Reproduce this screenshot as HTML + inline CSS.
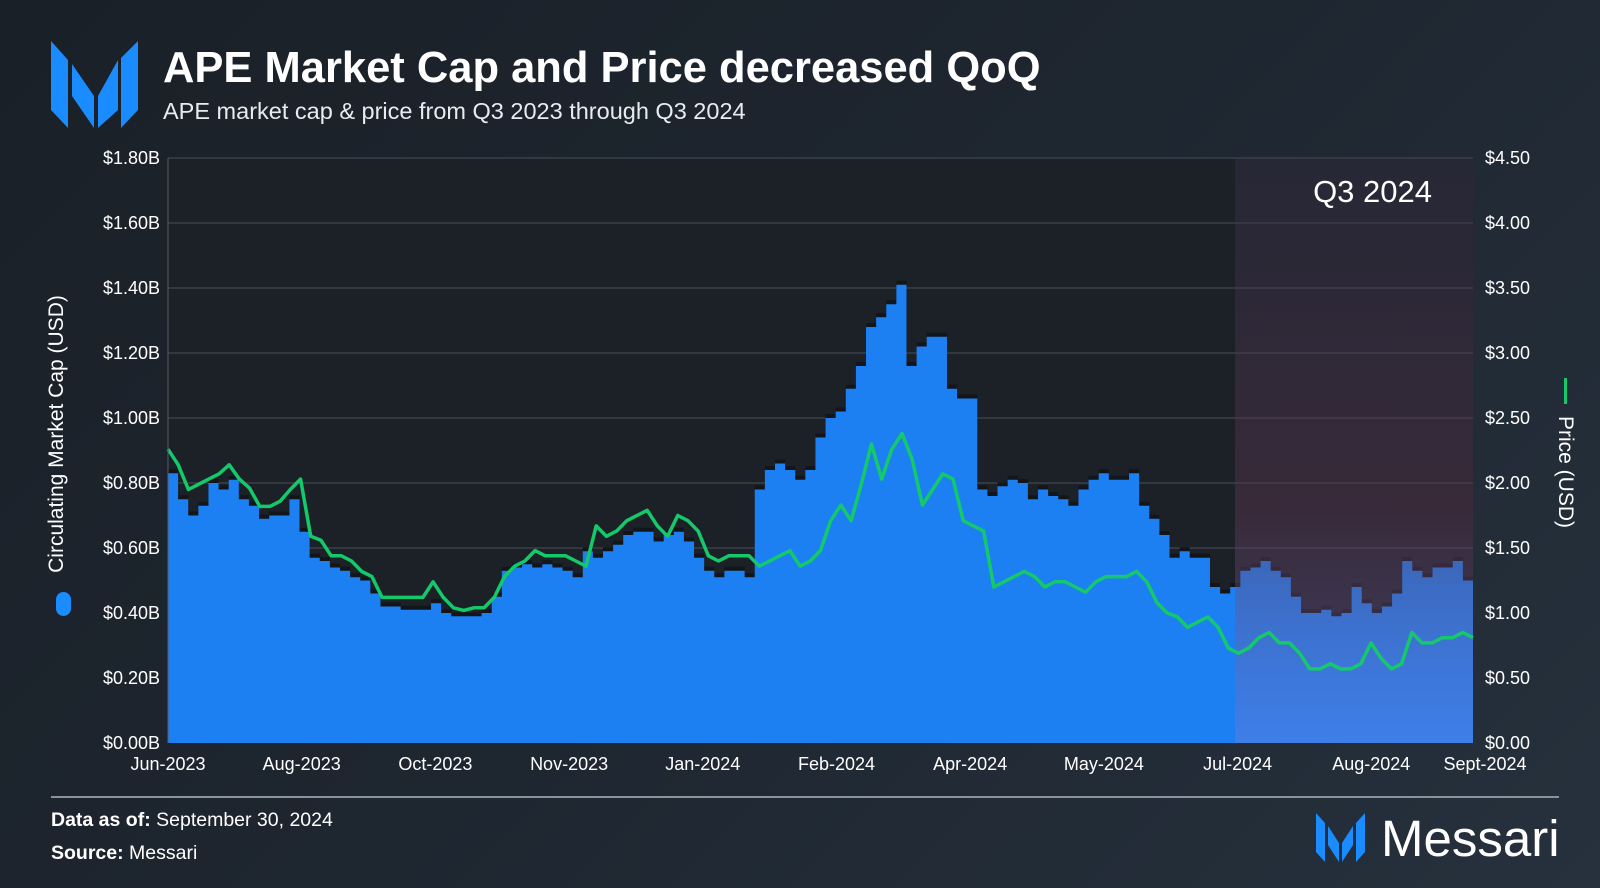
<!DOCTYPE html>
<html><head><meta charset="utf-8"><style>
body{margin:0;width:1600px;height:888px;overflow:hidden;background:linear-gradient(135deg,#1a2027 0%,#1e2630 50%,#26313d 100%);font-family:"Liberation Sans",sans-serif;color:#fff}
svg{position:absolute;left:0;top:0}
</style></head><body>
<svg id="c" width="1600" height="888">
<defs>
<linearGradient id="q3" x1="0" y1="0" x2="0" y2="1"><stop offset="0" stop-color="#3a3350" stop-opacity="0.35"/><stop offset="0.6" stop-color="#5a3550" stop-opacity="0.45"/><stop offset="1" stop-color="#8a7ad0" stop-opacity="0.3"/></linearGradient>
</defs>
<g><polygon points="51,41 68,60 68,128 51,110" fill="#1a8cff"/><polygon points="72,64 94,96 94,128 72,96" fill="#1a8cff"/><polygon points="98,96 118,60 118,110 98,128" fill="#1a8cff"/><polygon points="121,58 138,41 138,110 121,128" fill="#1a8cff"/></g>
<text x="163" y="82" font-size="43.5" font-weight="bold" fill="#fff">APE Market Cap and Price decreased QoQ</text>
<text x="163" y="119" font-size="23.5" fill="#e8ecf0">APE market cap &amp; price from Q3 2023 through Q3 2024</text>
<rect x="168" y="158" width="1305" height="585" fill="#1c2127"/>
<g id="grid"></g><g id="area"></g><g id="shade"></g><g id="line"></g><g id="axes"></g>
<text x="63" y="434" font-size="21" fill="#fff" text-anchor="middle" transform="rotate(-90 63 434)">Circulating Market Cap (USD)</text>
<rect x="56" y="592" width="15" height="24" rx="7.5" fill="#1a8cff"/>
<rect x="1564" y="378" width="3" height="26" fill="#14c96a"/>
<text x="1559" y="472" font-size="21" fill="#fff" text-anchor="middle" transform="rotate(90 1559 472)">Price (USD)</text>
<text x="1432" y="202" font-size="31" fill="#fff" text-anchor="end">Q3 2024</text>
<rect x="51" y="796" width="1508" height="2" fill="#8a939c"/>
<text x="51" y="826" font-size="19.5" fill="#fff"><tspan font-weight="bold">Data as of:</tspan> September 30, 2024</text>
<text x="51" y="859" font-size="19.5" fill="#fff"><tspan font-weight="bold">Source:</tspan> Messari</text>
<g><polygon points="1316,813 1325,823 1325,862 1316,852" fill="#1a8cff"/><polygon points="1328,826 1339,843 1339,862 1328,845" fill="#1a8cff"/><polygon points="1342,843 1353,826 1353,845 1342,862" fill="#1a8cff"/><polygon points="1356,823 1365,813 1365,852 1356,862" fill="#1a8cff"/><text x="1381" y="856" font-size="51" fill="#fff">Messari</text></g>
</svg>
<script>
const xLabels=["Jun-2023","Aug-2023","Oct-2023","Nov-2023","Jan-2024","Feb-2024","Apr-2024","May-2024","Jul-2024","Aug-2024","Sept-2024"];
const capTicks=[0,0.2,0.4,0.6,0.8,1.0,1.2,1.4,1.6,1.8];
const priceTicks=[0,0.5,1.0,1.5,2.0,2.5,3.0,3.5,4.0,4.5];
const marketCap=[0.83,0.75,0.70,0.73,0.80,0.78,0.81,0.75,0.73,0.69,0.70,0.70,0.75,0.65,0.57,0.56,0.54,0.53,0.51,0.50,0.46,0.42,0.42,0.41,0.41,0.41,0.43,0.40,0.39,0.39,0.39,0.40,0.45,0.53,0.54,0.55,0.54,0.55,0.54,0.53,0.51,0.59,0.57,0.59,0.61,0.64,0.65,0.65,0.62,0.64,0.65,0.62,0.57,0.53,0.51,0.53,0.53,0.51,0.78,0.84,0.86,0.84,0.81,0.84,0.94,1.00,1.02,1.09,1.16,1.28,1.31,1.35,1.41,1.16,1.22,1.25,1.25,1.09,1.06,1.06,0.78,0.76,0.79,0.81,0.80,0.75,0.78,0.76,0.75,0.73,0.78,0.81,0.83,0.81,0.81,0.83,0.73,0.69,0.64,0.57,0.59,0.57,0.57,0.48,0.46,0.48,0.53,0.54,0.56,0.53,0.51,0.45,0.40,0.40,0.41,0.39,0.40,0.48,0.43,0.40,0.42,0.46,0.56,0.53,0.51,0.54,0.54,0.56,0.50];
const price=[2.26,2.14,1.95,1.99,2.03,2.07,2.14,2.03,1.96,1.82,1.82,1.86,1.95,2.03,1.59,1.56,1.44,1.44,1.40,1.32,1.28,1.12,1.12,1.12,1.12,1.12,1.24,1.12,1.04,1.02,1.04,1.04,1.12,1.28,1.36,1.40,1.48,1.44,1.44,1.44,1.40,1.36,1.67,1.59,1.63,1.71,1.75,1.79,1.67,1.59,1.75,1.71,1.63,1.44,1.40,1.44,1.44,1.44,1.36,1.40,1.44,1.48,1.36,1.40,1.48,1.71,1.83,1.71,1.99,2.30,2.03,2.26,2.38,2.18,1.83,1.95,2.07,2.03,1.71,1.67,1.63,1.20,1.24,1.28,1.32,1.28,1.20,1.24,1.24,1.20,1.16,1.24,1.28,1.28,1.28,1.32,1.24,1.08,1.00,0.97,0.89,0.93,0.97,0.89,0.73,0.69,0.73,0.81,0.85,0.77,0.77,0.69,0.57,0.57,0.61,0.57,0.57,0.61,0.77,0.65,0.57,0.61,0.85,0.77,0.77,0.81,0.81,0.85,0.81];
const X0=168,X1=1473,Y0=158,YB=743,SX=1235;
const NS="http://www.w3.org/2000/svg";
function yCap(v){return YB-(v/1.8)*(YB-Y0);}
function yPrice(v){return YB-(v/4.5)*(YB-Y0);}
function xIdx(i,n){return X0+i*(X1-X0)/(n-1);}
function mk(tag,attrs,parent){const e=document.createElementNS(NS,tag);for(const k in attrs)e.setAttribute(k,attrs[k]);document.getElementById(parent).appendChild(e);return e;}
capTicks.forEach((v,i)=>{
 const y=yCap(v);
 if(i>0){const g=mk('line',{x1:X0,x2:X1,y1:y,y2:y,stroke:'#3a4048','stroke-width':1.5},'grid');
 
 }
 const t=mk('text',{x:160,y:y+6,'font-size':18,fill:'#fff','text-anchor':'end'},'axes');t.textContent='$'+v.toFixed(2)+'B';
 
 
});
priceTicks.forEach(v=>{
 const t=mk('text',{x:1485,y:yPrice(v)+6,'font-size':18,fill:'#fff'},'axes');t.textContent='$'+v.toFixed(2);
 
 
});
const xl=mk('line',{x1:X0,x2:X0,y1:Y0,y2:YB,stroke:'#555c64','stroke-width':1},'axes');


xLabels.forEach((l,i)=>{
 let x=X0+i*133.7; if(i==10)x=1485;
 const t=mk('text',{x:x,y:770,'font-size':18,fill:'#fff','text-anchor':'middle'},'axes');t.textContent=l;
 
 
});
let n=marketCap.length,w=(X1-X0)/n,d='M'+X0+','+YB,ds='M'+X0+','+YB;
marketCap.forEach((v,i)=>{const x=X0+i*w;d+=' L'+x+','+yCap(v)+' L'+(x+w)+','+yCap(v);ds+=' L'+x+','+(yCap(v)-4)+' L'+(x+w)+','+(yCap(v)-4);});
d+=' L'+X1+','+YB+' Z';ds+=' L'+X1+','+YB+' Z';
const sh=mk('path',{d:ds,fill:'#121519'},'area');


const ar=mk('path',{d:d,fill:'#1c80f2'},'area');


const q=mk('rect',{x:SX,y:Y0,width:X1-SX,height:YB-Y0,fill:'url(#q3)'},'shade');


let pd='';price.forEach((v,i)=>{pd+=(i?' L':'M')+xIdx(i,price.length)+','+yPrice(v);});
const pl=mk('path',{d:pd,fill:'none',stroke:'#14c96a','stroke-width':3.5,'stroke-linejoin':'round'},'line');


</script>
</body></html>
